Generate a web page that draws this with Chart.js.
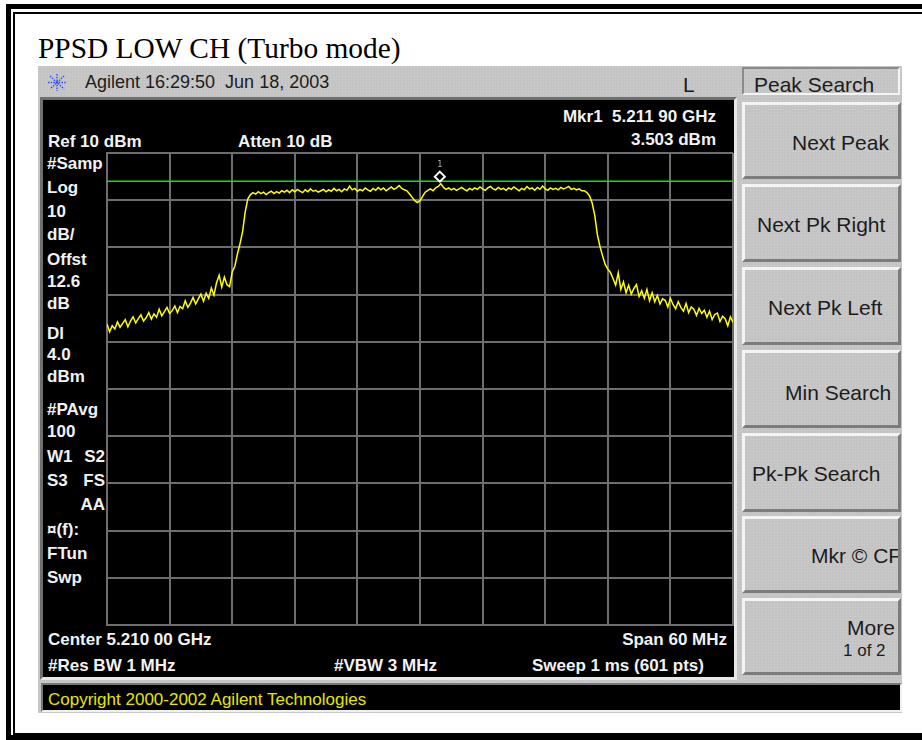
<!DOCTYPE html>
<html>
<head>
<meta charset="utf-8">
<title>PPSD LOW CH (Turbo mode)</title>
<script src="https://cdn.jsdelivr.net/npm/chart.js@4.4.1/dist/chart.umd.min.js"></script>
<style>
  html, body { margin: 0; padding: 0; background: #fff; }
  body { width: 922px; height: 740px; position: relative; overflow: hidden;
         font-family: "Liberation Sans", Arial, sans-serif; }
  .abs { position: absolute; white-space: pre; }
  .frame1 { left: 6px; top: 4px; width: 960px; height: 726px; border: 5px solid #000; }
  .frame2 { left: 13px; top: 12px; width: 960px; height: 719px; border: 2px solid #000; }
  .title { left: 38px; top: 34px; font: 29.4px/29px "Liberation Serif", "Times New Roman", serif; color: #000; }
  .panel { left: 38px; top: 66px; width: 864px; height: 647px; background-color: #c4c4c4;
           background-image: radial-gradient(circle, #d0d0d0 0.7px, transparent 1px);
           background-size: 3px 3px; }
  .display { left: 40px; top: 97px; width: 691px; height: 577px; background: #000;
             border-top: 3px solid #6f6f6f; border-left: 3px solid #6f6f6f;
             border-bottom: 3px solid #e8e8e8; border-right: 3px solid #e8e8e8; }
  .hdr { font-size: 18px; line-height: 18px; color: #1c1c1c; }
  .key { font-size: 21px; line-height: 21px; color: #1c1c1c; }
  .box { box-sizing: border-box; left: 742px; top: 67px; width: 158px; height: 28px;
         border-top: 2px solid #8a8a8a; border-left: 2px solid #8a8a8a;
         border-bottom: 2px solid #f4f4f4; border-right: 2px solid #f4f4f4; }
  .btn { box-sizing: border-box; left: 742px; width: 159px;
         border-top: 3px solid #f4f4f4; border-left: 3px solid #f4f4f4;
         border-bottom: 3px solid #7c7c7c; border-right: 3px solid #7c7c7c; }
  .w { font-weight: bold; font-size: 17px; line-height: 17px; color: #f2f2f2; }
  .copybar { box-sizing: border-box; left: 41px; top: 683px; width: 861px; height: 29px; background: #000;
             border-top: 2px solid #777; border-left: 2px solid #777;
             border-bottom: 2px solid #f0f0f0; border-right: 2px solid #f0f0f0; }
  .copy { left: 48px; top: 691px; font-size: 17px; line-height: 17px; color: #e6e600; }
  #sa { position: absolute; left: 100px; top: 146px; }
</style>
</head>
<body>
<div class="abs frame1"></div>
<div class="abs frame2"></div>
<div class="abs title">PPSD LOW CH (Turbo mode)</div>

<div class="abs panel"></div>
<svg class="abs" style="left:48px;top:74px" width="18" height="17" viewBox="0 0 18 17">
  <g stroke="#2a4cff" stroke-width="1.4" stroke-dasharray="1.5 1.2">
    <line x1="9" y1="0" x2="9" y2="17"/>
    <line x1="0" y1="8.5" x2="18" y2="8.5"/>
    <line x1="2" y1="2" x2="16" y2="15"/>
    <line x1="16" y1="2" x2="2" y2="15"/>
  </g>
</svg>
<div class="abs hdr" style="left:85px;top:72.8px">Agilent 16:29:50  Jun 18, 2003</div>
<div class="abs key" style="left:683px;top:74.2px">L</div>

<div class="abs box"></div>
<div class="abs key" style="left:754px;top:73.9px">Peak Search</div>

<div class="abs btn" style="top:102px;height:77px"></div>
<div class="abs btn" style="top:184px;height:78px"></div>
<div class="abs btn" style="top:267px;height:78px"></div>
<div class="abs btn" style="top:350px;height:78px"></div>
<div class="abs btn" style="top:433px;height:79px"></div>
<div class="abs btn" style="top:516px;height:77px"></div>
<div class="abs btn" style="top:598px;height:77px"></div>
<div class="abs key" style="left:792px;top:132.2px">Next Peak</div>
<div class="abs key" style="left:757px;top:213.9px">Next Pk Right</div>
<div class="abs key" style="left:768px;top:297.2px">Next Pk Left</div>
<div class="abs key" style="left:785px;top:381.5px">Min Search</div>
<div class="abs key" style="left:752px;top:462.9px">Pk-Pk Search</div>
<div class="abs key" style="left:811px;top:544.5px;width:87px;overflow:hidden">Mkr © CF</div>
<div class="abs key" style="left:847px;top:617.2px">More</div>
<div class="abs key" style="left:843px;top:642.3px;font-size:17px;line-height:17px">1 of 2</div>

<div class="abs display"></div>
<div class="abs w" style="left:48px;top:132.6px">Ref 10 dBm</div>
<div class="abs w" style="left:238px;top:132.6px">Atten 10 dB</div>
<div class="abs w" style="right:206px;top:107.6px;text-align:right">Mkr1  5.211 90 GHz</div>
<div class="abs w" style="right:206px;top:130.6px;text-align:right">3.503 dBm</div>

<div class="abs w" style="left:47px;top:154.6px">#Samp</div>
<div class="abs w" style="left:47px;top:178.6px">Log</div>
<div class="abs w" style="left:47px;top:202.6px">10</div>
<div class="abs w" style="left:47px;top:225.6px">dB/</div>
<div class="abs w" style="left:47px;top:251.1px">Offst</div>
<div class="abs w" style="left:47px;top:272.6px">12.6</div>
<div class="abs w" style="left:47px;top:294.6px">dB</div>
<div class="abs w" style="left:47px;top:324.6px">Dl</div>
<div class="abs w" style="left:47px;top:345.6px">4.0</div>
<div class="abs w" style="left:47px;top:367.6px">dBm</div>
<div class="abs w" style="left:47px;top:400.6px">#PAvg</div>
<div class="abs w" style="left:47px;top:422.6px">100</div>
<div class="abs w" style="left:47px;top:447.6px">W1</div>
<div class="abs w" style="right:817px;top:447.6px;text-align:right">S2</div>
<div class="abs w" style="left:47px;top:471.6px">S3</div>
<div class="abs w" style="right:817px;top:471.6px;text-align:right">FS</div>
<div class="abs w" style="right:817px;top:495.6px;text-align:right">AA</div>
<div class="abs w" style="left:47px;top:520.6px">¤(f):</div>
<div class="abs w" style="left:47px;top:544.6px">FTun</div>
<div class="abs w" style="left:47px;top:568.6px">Swp</div>

<div class="abs w" style="left:48px;top:630.6px">Center 5.210 00 GHz</div>
<div class="abs w" style="right:195px;top:631.1px;text-align:right">Span 60 MHz</div>
<div class="abs w" style="left:48px;top:657.1px">#Res BW 1 MHz</div>
<div class="abs w" style="left:334px;top:657.1px">#VBW 3 MHz</div>
<div class="abs w" style="left:532px;top:657.1px">Sweep 1 ms (601 pts)</div>

<div class="abs copybar"></div>
<div class="abs copy">Copyright 2000-2002 Agilent Technologies</div>

<canvas id="sa" width="640" height="486"></canvas>

<script>
// sweep settings
const startGHz = 5.180
const stopGHz = 5.240
const refLevel = 10      // dBm at top graticule
const dbPerDiv = 10
const displayLine = 4.0  // Dl
const markerFreq = 5.21190
const markerLevel = 3.503

// trace, 0.25 MHz apart, dBm
const traceDbm = [
  -26.2, -27.9, -26.6, -27.3, -25.8, -26.9, -26.1, -25.3, -26.8, -25.6,
  -24.7, -26.0, -25.1, -24.3, -25.6, -24.9, -23.8, -25.2, -24.1, -24.8,
  -23.1, -24.5, -23.6, -22.7, -24.0, -23.4, -22.4, -23.8, -22.5, -23.0,
  -21.3, -22.7, -21.8, -20.6, -22.0, -20.9, -19.9, -21.4, -19.7, -20.8,
  -18.6, -20.1, -17.5, -15.9, -18.4, -16.3, -17.9, -18.3, -15.2, -14.0,
  -11.4, -9.2, -6.6, -2.4, 0.3, 1.2, 1.6, 1.3, 1.8, 1.4,
  1.7, 1.2, 1.6, 1.9, 1.4, 1.8, 1.5, 2.0, 1.7, 2.1,
  1.6, 2.2, 1.8, 2.3, 1.9, 1.6, 2.2, 1.8, 2.4, 1.9,
  2.1, 1.7, 2.0, 2.3, 1.8, 2.2, 1.9, 2.5, 2.0, 2.3,
  1.8, 2.4, 2.1, 3.0, 2.2, 2.5, 1.9, 2.3, 2.0, 2.6,
  2.2, 1.9, 2.5, 2.1, 2.7, 2.2, 2.6, 2.0, 2.4, 2.8,
  2.3, 2.6, 3.1, 2.5, 2.2, 2.0, 1.3, 0.6, -0.1, -0.5,
  -0.1, 0.8, 1.7, 2.1, 2.4, 2.0, 2.6, 2.9, 3.5, 2.7,
  2.3, 2.6, 2.2, 2.5, 2.1, 2.4, 2.7, 2.3, 2.0, 2.5,
  2.2, 2.6, 2.3, 2.8, 2.4, 2.1, 2.6, 2.9, 2.4, 2.2,
  2.7, 2.3, 2.5, 2.1, 2.6, 2.3, 2.8, 2.4, 2.0, 2.5,
  2.2, 2.9, 2.4, 2.6, 2.1, 2.7, 2.3, 3.0, 2.4, 2.1,
  2.6, 2.3, 2.5, 2.2, 2.7, 2.4, 2.6, 2.9, 2.3, 2.5,
  2.2, 2.4, 2.0, 2.0, 1.6, 0.9, -0.6, -3.2, -7.3, -9.8,
  -11.8, -13.6, -14.6, -15.3, -16.6, -18.0, -15.4, -18.9, -17.3, -19.6,
  -18.0, -19.9, -18.7, -17.9, -20.4, -19.2, -20.8, -18.9, -21.3, -19.6,
  -21.5, -20.2, -22.0, -20.9, -21.2, -22.6, -20.8, -22.1, -23.0, -21.5,
  -22.7, -23.5, -21.9, -23.8, -22.6, -23.1, -24.4, -22.9, -24.0, -23.3,
  -24.8, -23.5, -25.3, -24.2, -23.9, -25.7, -24.6, -25.1, -26.6, -24.7,
  -25.9
]

const sweepStep = (stopGHz - startGHz) / (traceDbm.length - 1)
const tracePoints = traceDbm.map((v, i) => ({ x: startGHz + i * sweepStep, y: v }))

const gridColor = '#6e6e6e'

// marker 1 diamond sits just above the trace point
const markerPlugin = {
    id: 'marker1',
    afterDatasetsDraw(chart) {
        const { ctx, scales } = chart
        const px = scales.x.getPixelForValue(markerFreq)
        const py = scales.y.getPixelForValue(markerLevel) - 7
        ctx.save()
        ctx.strokeStyle = '#ffffff'
        ctx.lineWidth = 2
        ctx.beginPath()
        ctx.moveTo(px, py - 5)
        ctx.lineTo(px + 5, py)
        ctx.lineTo(px, py + 5)
        ctx.lineTo(px - 5, py)
        ctx.closePath()
        ctx.stroke()
        ctx.fillStyle = '#a8a8a8'
        ctx.font = '9px "DejaVu Sans Mono", monospace'
        ctx.textAlign = 'center'
        ctx.fillText('1', px, py - 10)
        ctx.restore()
    }
}

new Chart(document.getElementById('sa'), {
    type: 'line',
    data: {
        datasets: [
            {
                label: 'Trace 1',
                data: tracePoints,
                borderColor: '#ffff00',
                borderWidth: 1.5,
                pointRadius: 0,
                tension: 0,
                fill: false,
                order: 1,
            },
            {
                label: 'Display line',
                data: [{ x: startGHz, y: displayLine }, { x: stopGHz, y: displayLine }],
                borderColor: '#10e010',
                borderWidth: 1.6,
                pointRadius: 0,
                fill: false,
                order: 2,
            },
        ],
    },
    options: {
        responsive: false,
        animation: false,
        events: [],
        layout: { padding: 7 },
        plugins: { legend: { display: false }, tooltip: { enabled: false } },
        scales: {
            x: {
                type: 'linear',
                min: startGHz,
                max: stopGHz,
                afterBuildTicks: (scale) => {
                    scale.ticks = Array.from({ length: 11 }, (_, k) => ({ value: startGHz + k * (stopGHz - startGHz) / 10 }))
                },
                ticks: { display: false },
                grid: { color: gridColor, lineWidth: 2, drawTicks: false },
                border: { display: true, color: gridColor, width: 2 },
            },
            y: {
                min: refLevel - 10 * dbPerDiv,
                max: refLevel,
                ticks: { display: false, stepSize: dbPerDiv },
                grid: { color: gridColor, lineWidth: 2, drawTicks: false },
                border: { display: true, color: gridColor, width: 2 },
            },
        },
    },
    plugins: [markerPlugin],
})
</script>
</body>
</html>
